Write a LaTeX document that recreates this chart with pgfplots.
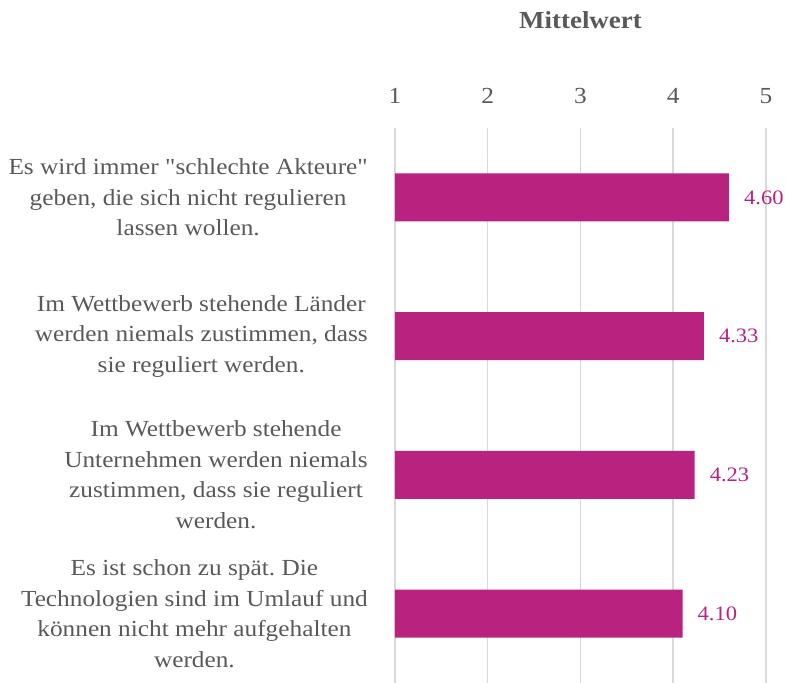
\documentclass[border=0pt]{standalone}
\usepackage{pgfplots}
\pgfplotsset{compat=1.18}
\usepackage{fontspec}
\setmainfont{Liberation Serif}[FakeStretch=1.1, Ligatures=TeXOff]
\definecolor{barc}{RGB}{184,35,128}
\definecolor{txt}{RGB}{89,89,89}
\definecolor{grd}{RGB}{217,217,217}
\frenchspacing
\begin{document}
\fontsize{23}{30.5}\selectfont
\begin{tikzpicture}
\useasboundingbox (0,0) rectangle (785pt,683pt);
\begin{axis}[
  at={(395pt,0pt)}, anchor=south west,
  scale only axis, width=371pt, height=555pt,
  xmin=1, xmax=5, ymin=0.5, ymax=4.5, y dir=reverse,
  xtick={1,2,3,4,5}, xticklabel pos=upper,
  ytick={1,2,3,4},
  yticklabels={{Es wird immer "schlechte Akteure"\\geben, die sich nicht regulieren\\lassen wollen.},
               {Im Wettbewerb stehende Länder\\werden niemals zustimmen, dass\\sie reguliert werden.},
               {Im Wettbewerb stehende\\Unternehmen werden niemals\\zustimmen, dass sie reguliert\\werden.},
               {Es ist schon zu spät. Die\\Technologien sind im Umlauf und\\können nicht mehr aufgehalten\\werden.}},
  yticklabel style={align=center, anchor=east, inner sep=0pt, xshift=-27pt, text=txt},
  xticklabel style={anchor=base, inner sep=0pt, yshift=25pt, text=txt},
  /pgf/number format/assume math mode=true,
  xmajorgrids, major grid style={grd, line width=1.5pt},
  axis line style={draw=none},
  major tick length=0pt,
  title={Mittelwert},
  title style={at={(0.5,1)}, anchor=base, yshift=94pt, font=\fontsize{24.5}{30}\selectfont\bfseries, text=txt},
]
\addplot[xbar, fill=barc, draw=none, bar width=48pt, bar shift=0pt,
  point meta=x,
  nodes near coords={\pgfmathprintnumber[fixed, fixed zerofill, precision=2]{\pgfplotspointmeta}},
  nodes near coords style={anchor=west, inner sep=0pt, xshift=15pt, text=barc, font=\fontsize{20.5}{24}\selectfont}]
  coordinates {(4.60,1) (4.33,2) (4.23,3) (4.10,4)};
\end{axis}
\end{tikzpicture}
\end{document}
